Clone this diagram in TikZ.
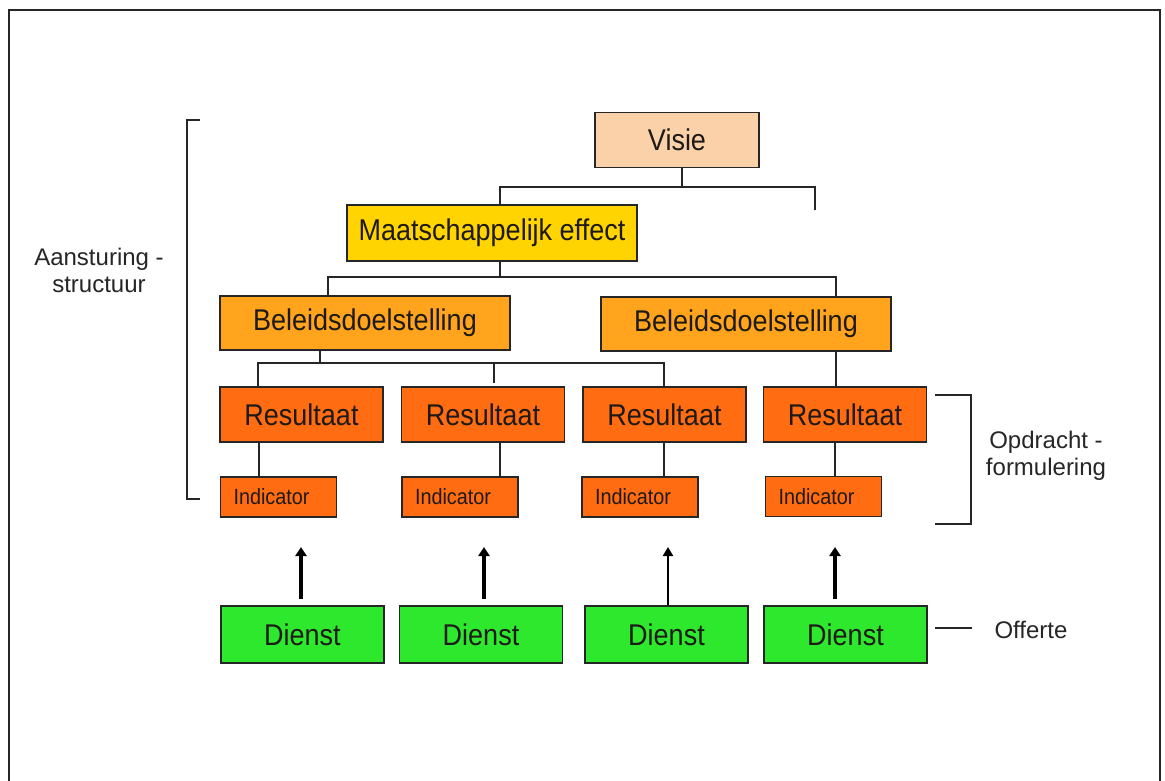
\documentclass[tikz,border=0pt]{standalone}
\usepackage{fontspec}
\setmainfont{Liberation Sans}
\newfontfamily\condfont{Liberation Sans}[FakeStretch=0.9]
\usetikzlibrary{arrows.meta}
\definecolor{cvisie}{HTML}{FBD1A9}
\definecolor{ceffect}{HTML}{FFD400}
\definecolor{cbeleid}{HTML}{FFA41C}
\definecolor{cres}{HTML}{FF6C12}
\definecolor{cdienst}{HTML}{2EE82E}
\definecolor{cline}{HTML}{262626}
\definecolor{ctext}{HTML}{1E1A18}
\begin{document}
\begin{tikzpicture}[x=1pt,y=-1pt,
  box/.style={draw=cline, line width=1.6pt, inner sep=0pt, text=ctext,
    font=\condfont\fontsize{30}{32}\selectfont},
  visiebox/.style={box, fill=cvisie, minimum width=164pt, minimum height=55pt},
  effectbox/.style={box, fill=ceffect, minimum width=290pt, minimum height=56pt},
  beleidbox/.style={box, fill=cbeleid, minimum width=290pt, minimum height=54pt},
  resbox/.style={box, fill=cres, minimum width=163pt, minimum height=55pt},
  indbox/.style={box, fill=cres, minimum height=40pt, inner xsep=13pt, text width=90pt,
    align=left, font=\condfont\fontsize{22}{24}\selectfont},
  dienstbox/.style={box, fill=cdienst, minimum width=163pt, minimum height=57pt},
  conn/.style={draw=cline, line width=1.8pt},
  bigarrow/.style={draw=black, line width=3.6pt, -{Triangle[width=11pt,length=9pt]}},
  thinarrow/.style={draw=black, line width=2.2pt, -{Triangle[width=10pt,length=9pt]}},
  sidelabel/.style={align=center, inner sep=0pt, text=black!85,
    font=\fontsize{24}{27}\selectfont}
]
\useasboundingbox (0,0) rectangle (1165,780);
\fill[white] (0,0) rectangle (1165,780);
\draw[line width=2pt, cline] (9,781) -- (9,10) -- (1160,10) -- (1160,781);

% boxes
\node[visiebox]  (V)  at (677,140)   {Visie};
\node[effectbox] (E)  at (492,233)   {Maatschappelijk effect};
\node[beleidbox] (B1) at (365,323)   {Beleidsdoelstelling};
\node[beleidbox] (B2) at (746,324)   {Beleidsdoelstelling};
\node[resbox] (R1) at (301.5,414.5) {Resultaat};
\node[resbox] (R2) at (483,414.5)   {Resultaat};
\node[resbox] (R3) at (664.5,414.5) {Resultaat};
\node[resbox] (R4) at (845,414.5)   {Resultaat};
\node[indbox] (I1) at (278.5,497) {Indicator};
\node[indbox] (I2) at (460,497)   {Indicator};
\node[indbox] (I3) at (640,497)   {Indicator};
\node[indbox] (I4) at (823.5,496.5) {Indicator};
\node[dienstbox] (D1) at (302.5,634.5) {Dienst};
\node[dienstbox] (D2) at (481,634.5)   {Dienst};
\node[dienstbox] (D3) at (666.5,634.5) {Dienst};
\node[dienstbox] (D4) at (845.5,634.5) {Dienst};

% junction coordinates
\coordinate (jv)  at (682,187);
\coordinate (jvl) at (500,187);
\coordinate (jvr) at (815,187);
\coordinate (tv)  at (815,210);
\coordinate (je)  at (500,277);
\coordinate (jel) at (328,277);
\coordinate (jer) at (836,277);
\coordinate (jb)  at (320,363);
\coordinate (jbl) at (258,363);
\coordinate (jbm) at (494,363);
\coordinate (jbme) at (494,383);
\coordinate (jbr) at (664,363);
\coordinate (c1) at (259,460);
\coordinate (c2) at (500,460);
\coordinate (c3) at (664,460);
\coordinate (c4) at (835,460);

% tree connectors
\draw[conn] (V.south -| jv) -- (jv);
\draw[conn] (tv) -- (jvr) -- (jvl) -- (E.north -| jvl);
\draw[conn] (E.south -| je) -- (je);
\draw[conn] (B1.north -| jel) -- (jel) -- (jer) -- (B2.north -| jer);
\draw[conn] (B1.south -| jb) -- (jb);
\draw[conn] (R1.north -| jbl) -- (jbl) -- (jbr) -- (R3.north -| jbr);
\draw[conn] (jbm) -- (jbme);
\draw[conn] (B2.south -| jer) -- (R4.north -| jer);
\draw[conn] (R1.south -| c1) -- (I1.north -| c1);
\draw[conn] (R2.south -| c2) -- (I2.north -| c2);
\draw[conn] (R3.south -| c3) -- (I3.north -| c3);
\draw[conn] (R4.south -| c4) -- (I4.north -| c4);

% arrows
\coordinate (t1) at (301,547);
\coordinate (t2) at (484,547);
\coordinate (t3) at (668,547);
\coordinate (t4) at (835,547);
\draw[bigarrow, shorten <=6pt] (D1.north -| t1) -- (t1);
\draw[bigarrow, shorten <=6pt] (D2.north -| t2) -- (t2);
\draw[thinarrow] (D3.north -| t3) -- (t3);
\draw[bigarrow, shorten <=6pt] (D4.north -| t4) -- (t4);

% side brackets and labels
\coordinate (lb1) at (200,120);
\coordinate (lb2) at (187,120);
\coordinate (lb3) at (187,499);
\coordinate (lb4) at (200,499);
\draw[conn] (lb1) -- (lb2) -- (lb3) -- (lb4);
\node[sidelabel] (AS) at (99,270) {Aansturing -\\structuur};

\coordinate (rb1) at (935,395);
\coordinate (rb2) at (971,395);
\coordinate (rb3) at (971,524);
\coordinate (rb4) at (935,524);
\draw[conn] (rb1) -- (rb2) -- (rb3) -- (rb4);
\node[sidelabel] (OF) at (1046,456) {Opdracht -\\formulering};

\node[sidelabel] (OFF) at (1031,630) {Offerte};
\coordinate (o1) at (935,628);
\coordinate (o2) at (972,628);
\draw[conn] (o1) -- (o2);
\end{tikzpicture}
\end{document}
